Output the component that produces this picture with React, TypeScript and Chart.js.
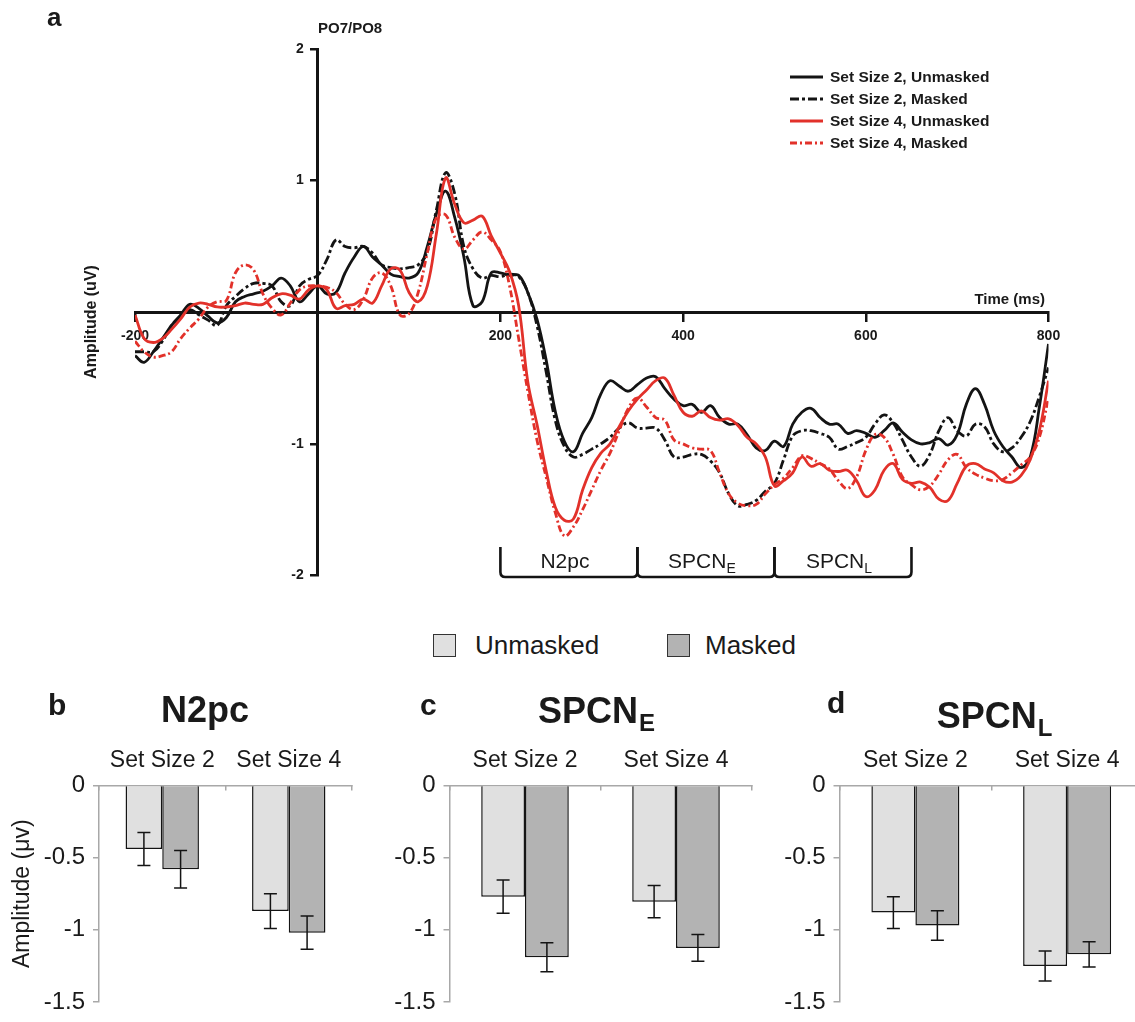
import React, { useEffect, useRef } from 'react';
import { Chart, registerables } from 'chart.js';

Chart.register(...registerables);

const FONT = '"Liberation Sans", Arial, Helvetica, sans-serif';

// ---------- Panel a: ERP difference waves (PO7/PO8) ----------
const TIME_MS = [
  -200, -190, -180, -170, -160, -150, -140, -130, -120, -110,
  -100, -90, -80, -70, -60, -50, -40, -30, -20, -10,
  0, 10, 20, 30, 40, 50, 60, 70, 80, 90,
  100, 110, 120, 130, 140, 150, 160, 170, 180, 190,
  200, 210, 220, 230, 240, 250, 260, 270, 280, 290,
  300, 310, 320, 330, 340, 350, 360, 370, 380, 390,
  400, 410, 420, 430, 440, 450, 460, 470, 480, 490,
  500, 510, 520, 530, 540, 550, 560, 570, 580, 590,
  600, 610, 620, 630, 640, 650, 660, 670, 680, 690,
  700, 710, 720, 730, 740, 750, 760, 770, 780, 790,
  800,
];

const SS2_UNMASKED = [
  -0.33, -0.38, -0.3, -0.2, -0.1, -0.02, 0.06, 0.03, -0.03, -0.08,
  -0.04, 0.08, 0.12, 0.14, 0.16, 0.2, 0.26, 0.2, 0.08, 0.14,
  0.2, 0.14, 0.15, 0.3, 0.42, 0.5, 0.42, 0.36, 0.29, 0.27,
  0.26, 0.3, 0.5, 0.75, 0.92, 0.72, 0.42, 0.05, 0.08, 0.3,
  0.3, 0.28, 0.28, 0.15, -0.05, -0.36, -0.75, -0.98, -1.06, -0.92,
  -0.8, -0.62, -0.52, -0.56, -0.6, -0.55, -0.5, -0.49, -0.58, -0.66,
  -0.71, -0.7, -0.76, -0.71, -0.8, -0.85, -0.85, -0.93, -1.03, -1.05,
  -0.98, -1.02, -0.85, -0.76, -0.73, -0.8, -0.85, -0.85, -0.92, -0.9,
  -0.92, -0.95, -0.9, -0.84, -0.91, -0.97, -1.0, -0.99, -0.96, -1.01,
  -0.93, -0.7, -0.58, -0.7, -0.9, -1.02, -1.1, -1.18, -1.1, -0.72,
  -0.24,
];

const SS2_MASKED = [
  -0.3, -0.3, -0.3, -0.22, -0.1, -0.03, 0.02, -0.02, -0.06, -0.1,
  0.05, 0.12, 0.18, 0.22, 0.22, 0.2, 0.08, 0.05, 0.2, 0.25,
  0.28, 0.4, 0.55, 0.5, 0.49, 0.5, 0.45, 0.36, 0.34, 0.33,
  0.34, 0.36, 0.46, 0.78, 1.06, 0.9, 0.5, 0.33, 0.26, 0.28,
  0.27, 0.29, 0.27, 0.15, -0.1, -0.45, -0.82, -1.02, -1.1, -1.08,
  -1.04, -1.0, -0.95, -0.88, -0.84, -0.88, -0.88, -0.88, -0.97, -1.1,
  -1.1, -1.08, -1.08, -1.13, -1.22, -1.38, -1.47, -1.46, -1.43, -1.36,
  -1.3, -1.12, -0.94, -0.9, -0.9, -0.92, -0.95, -1.04, -1.02, -0.99,
  -0.95, -0.85, -0.78, -0.84, -0.97, -1.1, -1.17, -1.08, -0.9, -0.8,
  -0.9, -0.94, -0.85, -0.87, -1.0, -1.06, -1.03, -0.95, -0.83, -0.64,
  -0.42,
];

const SS4_UNMASKED = [
  -0.02, -0.2, -0.23, -0.2, -0.13, -0.05, 0.04, 0.07, 0.06, 0.04,
  0.04, 0.05, 0.07, 0.06, 0.06, 0.11, 0.14, 0.13, 0.1, 0.17,
  0.2, 0.17, 0.03, 0.05, 0.06, 0.1, 0.07, 0.2, 0.33, 0.32,
  0.15, 0.08, 0.2, 0.6, 1.02, 0.82, 0.68, 0.7, 0.73, 0.58,
  0.45, 0.31, 0.05, -0.53, -0.85, -1.2, -1.48, -1.58, -1.57, -1.35,
  -1.18, -1.07, -1.0, -0.87, -0.75, -0.66, -0.59, -0.52, -0.5, -0.63,
  -0.76, -0.79, -0.75, -0.8, -0.82, -0.81, -0.86, -0.95, -1.0, -1.1,
  -1.32, -1.28, -1.22, -1.1, -1.17, -1.15, -1.2, -1.21, -1.2, -1.28,
  -1.4, -1.35, -1.2, -1.15, -1.27, -1.3, -1.29, -1.33, -1.42, -1.43,
  -1.3, -1.17, -1.15, -1.19, -1.22, -1.28, -1.29, -1.24, -1.12, -0.9,
  -0.52,
];

const SS4_MASKED = [
  -0.22, -0.3, -0.34, -0.33, -0.3, -0.2, -0.12, -0.05, 0.04, 0.08,
  0.09, 0.3, 0.36, 0.32, 0.14, 0.03, -0.02, 0.07, 0.17, 0.2,
  0.2, 0.19, 0.15, 0.06, 0.02, 0.1, 0.26, 0.3, 0.2, -0.02,
  -0.01, 0.15, 0.45, 0.72, 0.74, 0.57, 0.48, 0.55, 0.61, 0.55,
  0.46, 0.2, -0.2, -0.6, -0.97, -1.25, -1.52, -1.7, -1.63, -1.5,
  -1.35, -1.2, -1.07, -0.9, -0.73, -0.65, -0.72, -0.8, -0.82, -0.97,
  -1.0, -1.03, -1.04, -1.05, -1.22, -1.38, -1.45, -1.47, -1.46, -1.38,
  -1.31, -1.26, -1.18, -1.09, -1.11, -1.15, -1.19, -1.28, -1.34, -1.25,
  -1.05, -0.93, -0.95, -1.08, -1.25, -1.31, -1.35, -1.32, -1.23, -1.12,
  -1.08, -1.18, -1.23, -1.26, -1.28, -1.27, -1.22, -1.16, -1.1, -0.95,
  -0.65,
];

const SERIES_LABELS = [
  'Set Size 2, Unmasked',
  'Set Size 2, Masked',
  'Set Size 4, Unmasked',
  'Set Size 4, Masked',
];

const X_MIN = -200;
const X_MAX = 800;
const X_STEP = 200;
const Y_MIN = -2;
const Y_MAX = 2;
const Y_STEP = 1;

const WINDOW_EDGES = [200, 350, 500, 650];
const WINDOW_NAMES = ['N2pc', 'SPCN', 'SPCN'];
const WINDOW_SUBS = ['', 'E', 'L'];

// ---------- Panels b-d: mean amplitudes ----------
const SET_SIZES = ['Set Size 2', 'Set Size 4'];
const CONDITIONS = ['Unmasked', 'Masked'];

const N2PC_UNMASKED = [-0.44, -0.87];
const N2PC_MASKED = [-0.58, -1.02];
const N2PC_UNMASKED_SE = [0.115, 0.12];
const N2PC_MASKED_SE = [0.13, 0.115];

const SPCNE_UNMASKED = [-0.77, -0.805];
const SPCNE_MASKED = [-1.19, -1.125];
const SPCNE_UNMASKED_SE = [0.115, 0.112];
const SPCNE_MASKED_SE = [0.1, 0.092];

const SPCNL_UNMASKED = [-0.88, -1.25];
const SPCNL_MASKED = [-0.97, -1.17];
const SPCNL_UNMASKED_SE = [0.11, 0.104];
const SPCNL_MASKED_SE = [0.102, 0.088];

const BAR_Y_MIN = -1.5;
const BAR_Y_MAX = 0;
const BAR_Y_STEP = 0.5;

const RED = '#e2312a';
const BLACK = '#141414';
const LIGHT = '#e0e0e0';
const DARK = '#b3b3b3';
const AXIS_GRAY = '#a8a8a8';
const TEXT = '#1a1a1a';

function ErpChart() {
  const ref = useRef<HTMLCanvasElement>(null);
  useEffect(() => {
    const series = [SS2_UNMASKED, SS2_MASKED, SS4_UNMASKED, SS4_MASKED];
    const colors = [BLACK, BLACK, RED, RED];
    const dashes = [[], [9, 3, 3, 3], [], [7, 3, 2, 3]];
    const orders = [3, 2, 0, 1];
    const datasets = series.map((s, k) => ({
      label: SERIES_LABELS[k],
      data: TIME_MS.map((t, i) => ({ x: t, y: s[i] })),
      borderColor: colors[k],
      borderWidth: 2.8,
      borderDash: dashes[k],
      pointRadius: 0,
      tension: 0.4,
      fill: false,
      order: orders[k],
    }));

    const tickFontStr = `bold 14px ${FONT}`;

    const decor = {
      id: 'erpDecor',
      afterDraw(chart: any) {
        const { ctx } = chart;
        const xs = chart.scales.x;
        const ys = chart.scales.y;
        ctx.save();
        ctx.fillStyle = TEXT;

        // y tick labels (from the y scale's ticks), left of the centred axis
        const axisX = xs.getPixelForValue(0);
        ctx.font = tickFontStr;
        ctx.textAlign = 'right';
        ctx.textBaseline = 'middle';
        ys.ticks.forEach((t: any) => {
          if (t.value === 0) return;
          ctx.fillText(String(t.value), axisX - 14, ys.getPixelForValue(t.value));
        });

        // panel letter
        ctx.font = `bold 26px ${FONT}`;
        ctx.textAlign = 'left';
        ctx.textBaseline = 'alphabetic';
        ctx.fillText('a', 47, 26);
        // channel label
        ctx.font = `bold 15px ${FONT}`;
        ctx.fillText('PO7/PO8', 318, 33);
        // x title
        ctx.textAlign = 'right';
        ctx.fillText('Time (ms)', 1045, 304);
        // y title
        ctx.save();
        ctx.translate(92, 322);
        ctx.rotate(-Math.PI / 2);
        ctx.textAlign = 'center';
        ctx.textBaseline = 'middle';
        ctx.font = `bold 16px ${FONT}`;
        ctx.fillText('Amplitude (uV)', 0, 0);
        ctx.restore();

        // legend
        chart.data.datasets.forEach((ds: any, k: number) => {
          const y = 77 + k * 22;
          ctx.strokeStyle = ds.borderColor;
          ctx.lineWidth = 3;
          ctx.setLineDash(ds.borderDash || []);
          ctx.beginPath();
          ctx.moveTo(790, y);
          ctx.lineTo(823, y);
          ctx.stroke();
          ctx.setLineDash([]);
          ctx.fillStyle = TEXT;
          ctx.font = `bold 15.5px ${FONT}`;
          ctx.textAlign = 'left';
          ctx.textBaseline = 'middle';
          ctx.fillText(ds.label, 830, y + 1);
        });

        // component windows brackets
        ctx.strokeStyle = BLACK;
        ctx.lineWidth = 2.6;
        const top = 547;
        const base = 577;
        const r = 5;
        for (let w = 0; w < WINDOW_NAMES.length; w++) {
          const xa = xs.getPixelForValue(WINDOW_EDGES[w]);
          const xb = xs.getPixelForValue(WINDOW_EDGES[w + 1]);
          ctx.beginPath();
          ctx.moveTo(xa, top);
          ctx.lineTo(xa, base - r);
          ctx.quadraticCurveTo(xa, base, xa + r, base);
          ctx.lineTo(xb - r, base);
          ctx.quadraticCurveTo(xb, base, xb, base - r);
          ctx.lineTo(xb, top);
          ctx.stroke();
          const cx = (xa + xb) / 2 - 4;
          ctx.font = `21px ${FONT}`;
          const w1 = ctx.measureText(WINDOW_NAMES[w]).width;
          ctx.font = `14px ${FONT}`;
          const w2 = WINDOW_SUBS[w] ? ctx.measureText(WINDOW_SUBS[w]).width : 0;
          const x0 = cx - (w1 + w2) / 2;
          ctx.fillStyle = TEXT;
          ctx.textAlign = 'left';
          ctx.textBaseline = 'alphabetic';
          ctx.font = `21px ${FONT}`;
          ctx.fillText(WINDOW_NAMES[w], x0, 568);
          if (WINDOW_SUBS[w]) {
            ctx.font = `14px ${FONT}`;
            ctx.fillText(WINDOW_SUBS[w], x0 + w1, 573);
          }
        }
        ctx.restore();
      },
    };

    const tickFont = { family: FONT, size: 14, weight: 'bold' as const };
    const chart = new Chart(ref.current as HTMLCanvasElement, {
      type: 'line',
      data: { datasets },
      options: {
        animation: false,
        responsive: false,
        layout: { padding: { left: 135, right: 86.5, top: 49, bottom: 24.5 } },
        plugins: { legend: { display: false }, tooltip: { enabled: false }, title: { display: false } },
        scales: {
          x: {
            type: 'linear',
            min: X_MIN,
            max: X_MAX,
            position: { y: 0 } as any,
            ticks: {
              stepSize: X_STEP,
              autoSkip: false,
              maxRotation: 0,
              padding: 7,
              color: TEXT,
              font: tickFont,
              callback: (v: any) => (v === 0 ? '' : String(v)),
            },
            grid: { drawOnChartArea: false, drawTicks: true, tickLength: 8, color: BLACK, lineWidth: 2.5 },
            border: { display: true, color: BLACK, width: 3 },
          },
          y: {
            type: 'linear',
            min: Y_MIN,
            max: Y_MAX,
            position: { x: 0 } as any,
            ticks: {
              display: false,
              stepSize: Y_STEP,
              color: TEXT,
              font: tickFont,
            },
            grid: { drawOnChartArea: false, drawTicks: true, tickLength: 6, color: BLACK, lineWidth: 2.5 },
            border: { display: true, color: BLACK, width: 3 },
          },
        },
      },
      plugins: [decor],
    } as any);
    return () => chart.destroy();
  }, []);
  return (
    <canvas
      ref={ref}
      width={1135}
      height={600}
      style={{ position: 'absolute', left: 0, top: 0, width: 1135, height: 600, display: 'block' }}
    />
  );
}

type PanelProps = {
  letter: string;
  title: string;
  sub: string;
  unmasked: number[];
  masked: number[];
  unmaskedSe: number[];
  maskedSe: number[];
  left: number;
  width: number;
  chartLeft: number;
  chartRight: number;
  titleCx: number;
  titleBase: number;
  letterX: number;
  letterBase: number;
  yTitle: boolean;
};

const PANEL_TOP = 670;
const PANEL_HEIGHT = 352;
const CHART_TOP = 785.5;
const CHART_BOTTOM = 1009;

function BarPanel(p: PanelProps) {
  const ref = useRef<HTMLCanvasElement>(null);
  useEffect(() => {
    const padTop = 60;
    const errorBars = {
      id: 'errorBars',
      afterDatasetsDraw(chart: any) {
        const { ctx } = chart;
        const ys = chart.scales.y;
        ctx.save();
        ctx.strokeStyle = BLACK;
        ctx.lineWidth = 1.5;
        chart.data.datasets.forEach((ds: any, i: number) => {
          const meta = chart.getDatasetMeta(i);
          meta.data.forEach((bar: any, j: number) => {
            const v = ds.data[j];
            const e = ds.errors[j];
            const y1 = ys.getPixelForValue(v + e);
            const y2 = ys.getPixelForValue(v - e);
            const x = bar.x;
            ctx.beginPath();
            ctx.moveTo(x, y1);
            ctx.lineTo(x, y2);
            ctx.moveTo(x - 6.5, y1);
            ctx.lineTo(x + 6.5, y1);
            ctx.moveTo(x - 6.5, y2);
            ctx.lineTo(x + 6.5, y2);
            ctx.stroke();
          });
        });
        ctx.restore();
      },
      afterDraw(chart: any) {
        const { ctx } = chart;
        ctx.save();
        ctx.fillStyle = TEXT;
        ctx.textAlign = 'left';
        ctx.textBaseline = 'alphabetic';
        ctx.font = `bold 30px ${FONT}`;
        ctx.fillText(p.letter, p.letterX - p.left, p.letterBase - PANEL_TOP);
        ctx.font = `bold 36px ${FONT}`;
        const w1 = ctx.measureText(p.title).width;
        ctx.font = `bold 24px ${FONT}`;
        const w2 = p.sub ? ctx.measureText(p.sub).width : 0;
        const x0 = p.titleCx - p.left - (w1 + w2) / 2;
        ctx.font = `bold 36px ${FONT}`;
        ctx.fillText(p.title, x0, p.titleBase - PANEL_TOP);
        if (p.sub) {
          ctx.font = `bold 24px ${FONT}`;
          ctx.fillText(p.sub, x0 + w1 + 1, p.titleBase - PANEL_TOP + 8);
        }
        ctx.restore();
      },
    };

    const chartLeftLocal = p.chartLeft - p.left;
    const chartRightLocal = p.chartRight - p.left;
    const chart = new Chart(ref.current as HTMLCanvasElement, {
      type: 'bar',
      data: {
        labels: SET_SIZES,
        datasets: [
          {
            label: CONDITIONS[0],
            data: p.unmasked,
            errors: p.unmaskedSe,
            backgroundColor: LIGHT,
            borderColor: BLACK,
            borderWidth: 1.5,
            categoryPercentage: 0.58,
            barPercentage: 1.0,
          },
          {
            label: CONDITIONS[1],
            data: p.masked,
            errors: p.maskedSe,
            backgroundColor: DARK,
            borderColor: BLACK,
            borderWidth: 1.5,
            categoryPercentage: 0.58,
            barPercentage: 1.0,
          },
        ],
      },
      options: {
        animation: false,
        responsive: false,
        layout: {
          padding: {
            left: 0,
            right: p.width - chartRightLocal,
            top: padTop,
            bottom: PANEL_TOP + PANEL_HEIGHT - CHART_BOTTOM,
          },
        },
        plugins: { legend: { display: false }, tooltip: { enabled: false }, title: { display: false } },
        scales: {
          x: {
            type: 'category',
            position: 'top',
            offset: true,
            grid: { offset: true, drawOnChartArea: false, drawTicks: true, tickLength: -5, color: AXIS_GRAY, lineWidth: 1.5 },
            border: { display: true, color: AXIS_GRAY, width: 1.5 },
            ticks: { color: TEXT, font: { family: FONT, size: 23, lineHeight: 1.2 }, padding: 16, maxRotation: 0 },
            afterFit: (s: any) => {
              s.height = CHART_TOP - PANEL_TOP - padTop;
            },
          },
          y: {
            type: 'linear',
            min: BAR_Y_MIN,
            max: BAR_Y_MAX,
            ticks: {
              stepSize: BAR_Y_STEP,
              color: TEXT,
              font: { family: FONT, size: 24, lineHeight: 1.0 },
              padding: 8,
              callback: (v: any) => String(v),
            },
            grid: { drawOnChartArea: false, drawTicks: true, tickLength: 6, color: AXIS_GRAY, lineWidth: 1.5 },
            border: { display: true, color: AXIS_GRAY, width: 1.5 },
            title: {
              display: p.yTitle,
              text: 'Amplitude (μv)',
              color: TEXT,
              font: { family: FONT, size: 23 },
              padding: { top: 9, bottom: 0 },
            },
            afterFit: (s: any) => {
              s.width = chartLeftLocal;
            },
          },
        },
      },
      plugins: [errorBars],
    } as any);
    return () => chart.destroy();
  }, []);
  return (
    <canvas
      ref={ref}
      width={p.width}
      height={PANEL_HEIGHT}
      style={{ position: 'absolute', left: p.left, top: PANEL_TOP, width: p.width, height: PANEL_HEIGHT, display: 'block' }}
    />
  );
}

function BarLegend() {
  const items = [
    { label: CONDITIONS[0], color: LIGHT, boxX: 433, textX: 475 },
    { label: CONDITIONS[1], color: DARK, boxX: 667, textX: 705 },
  ];
  return (
    <>
      {items.map((it) => (
        <React.Fragment key={it.label}>
          <div
            style={{
              position: 'absolute',
              left: it.boxX,
              top: 634,
              width: 23,
              height: 23,
              boxSizing: 'border-box',
              background: it.color,
              border: '1px solid #333',
            }}
          />
          <div
            style={{
              position: 'absolute',
              left: it.textX,
              top: 630,
              height: 30,
              lineHeight: '30px',
              fontFamily: FONT,
              fontSize: 26,
              color: TEXT,
              whiteSpace: 'nowrap',
            }}
          >
            {it.label}
          </div>
        </React.Fragment>
      ))}
    </>
  );
}

export default function App() {
  return (
    <div
      style={{
        position: 'absolute',
        left: 0,
        top: 0,
        width: 1135,
        height: 1022,
        overflow: 'hidden',
        background: '#ffffff',
      }}
    >
      <ErpChart />
      <BarLegend />
      <BarPanel
        letter="b"
        title="N2pc"
        sub=""
        unmasked={N2PC_UNMASKED}
        masked={N2PC_MASKED}
        unmaskedSe={N2PC_UNMASKED_SE}
        maskedSe={N2PC_MASKED_SE}
        left={0}
        width={380}
        chartLeft={99}
        chartRight={352}
        titleCx={205}
        titleBase={722}
        letterX={48}
        letterBase={715}
        yTitle={true}
      />
      <BarPanel
        letter="c"
        title="SPCN"
        sub="E"
        unmasked={SPCNE_UNMASKED}
        masked={SPCNE_MASKED}
        unmaskedSe={SPCNE_UNMASKED_SE}
        maskedSe={SPCNE_MASKED_SE}
        left={380}
        width={380}
        chartLeft={449.5}
        chartRight={751.5}
        titleCx={596}
        titleBase={723}
        letterX={420}
        letterBase={715}
        yTitle={false}
      />
      <BarPanel
        letter="d"
        title="SPCN"
        sub="L"
        unmasked={SPCNL_UNMASKED}
        masked={SPCNL_MASKED}
        unmaskedSe={SPCNL_UNMASKED_SE}
        maskedSe={SPCNL_MASKED_SE}
        left={760}
        width={400}
        chartLeft={839.5}
        chartRight={1143}
        titleCx={994}
        titleBase={728}
        letterX={827}
        letterBase={713}
        yTitle={false}
      />
    </div>
  );
}
